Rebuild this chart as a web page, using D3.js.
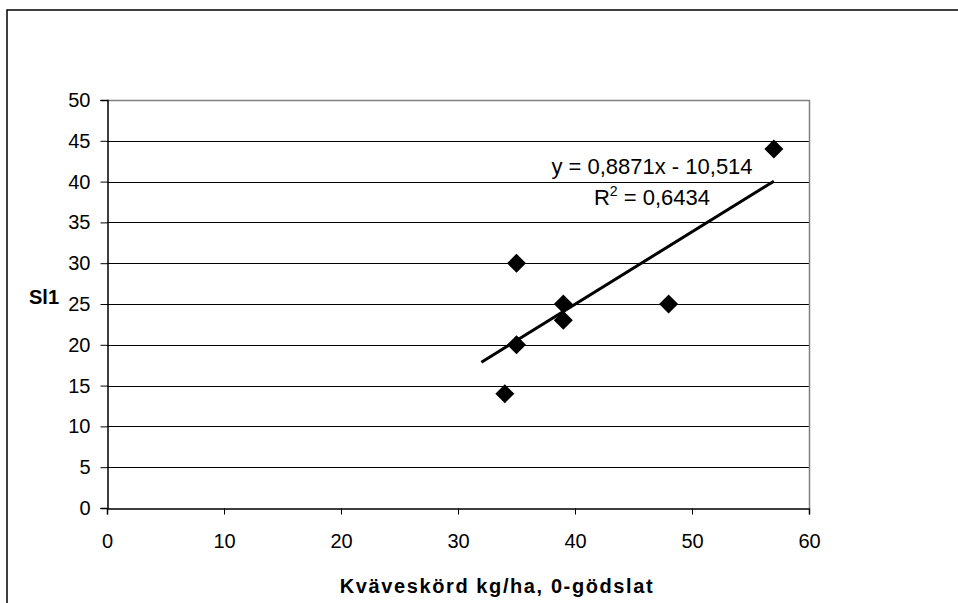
<!DOCTYPE html>
<html>
<head>
<meta charset="utf-8">
<script src="https://cdn.jsdelivr.net/npm/d3@7"></script>
<style>
    body { margin: 0; background: #fff; }
    text { font-family: Arial, "Liberation Sans", sans-serif; fill: #000; }
</style>
</head>
<body>
<div class="container"></div>
<script>
let width = 958
let height = 603
let margin = {
    left: 107,
    right: 149,
    top: 100,
    bottom: 95
}

// data
const kvaveskord = [35, 39, 39, 35, 34, 48, 57]
const sl1 = [30, 25, 23, 20, 14, 25, 44]
const xTicks = [0, 10, 20, 30, 40, 50, 60]
const yTicks = [0, 5, 10, 15, 20, 25, 30, 35, 40, 45, 50]
const trendSlope = 0.8871
const trendIntercept = -10.514
const trendFrom = [32, 57]
const equationLabel = 'y = 0,8871x - 10,514'
const r2Value = '0,6434'

let svg = d3.select('.container')
    .append('svg')
    .attr('width', width)
    .attr('height', height)

// outer chart border
svg.append('rect')
    .attr('x', 7)
    .attr('y', 10)
    .attr('width', 970)
    .attr('height', 620)
    .attr('fill', 'none')
    .attr('stroke', '#000')
    .attr('stroke-width', 1.5)

let x = d3.scaleLinear()
    .domain([0, 60])
    .range([margin.left, width - margin.right])

let y = d3.scaleLinear()
    .domain([0, 50])
    .range([height - margin.bottom, margin.top])

// grid lines
svg.append('g')
    .selectAll('line')
    .data(yTicks.filter(d => d > 0 && d < 50))
    .enter()
    .append('line')
    .attr('x1', x(0))
    .attr('x2', x(60))
    .attr('y1', d => Math.round(y(d)) + 0.5)
    .attr('y2', d => Math.round(y(d)) + 0.5)
    .attr('stroke', '#000')
    .attr('stroke-width', 1)

// plot area border (top/right gray)
svg.append('path')
    .attr('d', `M${x(0)},${Math.round(y(50)) + 0.5} H${Math.round(x(60)) + 0.5} V${y(0)}`)
    .attr('fill', 'none')
    .attr('stroke', '#808080')
    .attr('stroke-width', 1.5)

let xAxis = svg.append('g')
    .attr('transform', `translate(0,${Math.round(y(0)) + 0.5})`)
    .call(d3.axisBottom(x).tickValues(xTicks).tickSize(6).tickPadding(19).tickFormat(d3.format('d')))

let yAxis = svg.append('g')
    .attr('transform', `translate(${Math.round(x(0)) + 0.5},0)`)
    .call(d3.axisLeft(y).tickValues(yTicks).tickSize(7).tickPadding(10).tickFormat(d3.format('d')))

for (let ax of [xAxis, yAxis]) {
    ax.selectAll('.domain').attr('stroke', '#000').attr('stroke-width', 1.5)
    ax.selectAll('.tick line').attr('stroke', '#000')
    ax.selectAll('text').attr('font-size', 20).attr('font-family', 'Arial, "Liberation Sans", sans-serif')
}

// trend line
svg.append('line')
    .attr('x1', x(trendFrom[0]))
    .attr('y1', y(trendSlope * trendFrom[0] + trendIntercept))
    .attr('x2', x(trendFrom[1]))
    .attr('y2', y(trendSlope * trendFrom[1] + trendIntercept))
    .attr('stroke', '#000')
    .attr('stroke-width', 3)

// diamonds
svg.append('g')
    .selectAll('path')
    .data(kvaveskord.map((d, i) => [d, sl1[i]]))
    .enter()
    .append('path')
    .attr('d', d3.symbol().type(d3.symbolDiamond2).size(230))
    .attr('transform', d => `translate(${x(d[0])},${y(d[1])})`)
    .attr('fill', '#000')

// trend equation
let eqX = 652
svg.append('text')
    .attr('x', eqX)
    .attr('y', 174)
    .attr('text-anchor', 'middle')
    .attr('font-size', 22)
    .text(equationLabel)

let r2 = svg.append('text')
    .attr('x', eqX)
    .attr('y', 205)
    .attr('text-anchor', 'middle')
    .attr('font-size', 22)
r2.append('tspan').text('R')
r2.append('tspan').attr('font-size', 14).attr('dy', -9).text('2')
r2.append('tspan').attr('dy', 9).text(' = ' + r2Value)

// axis titles
svg.append('text')
    .attr('x', 497)
    .attr('y', 593)
    .attr('text-anchor', 'middle')
    .attr('font-size', 20)
    .attr('font-weight', 'bold')
    .attr('letter-spacing', 1.6)
    .text('Kväveskörd kg/ha, 0-gödslat')

svg.append('text')
    .attr('x', 44)
    .attr('y', 304)
    .attr('text-anchor', 'middle')
    .attr('font-size', 20)
    .attr('font-weight', 'bold')
    .text('Sl1')
</script>
</body>
</html>
